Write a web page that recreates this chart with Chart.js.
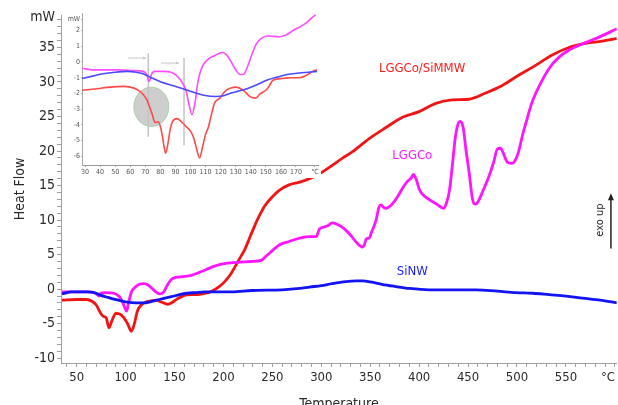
<!DOCTYPE html>
<html>
<head>
<meta charset="utf-8">
<script src="https://cdn.jsdelivr.net/npm/chart.js@4"></script>
<style>
html,body{margin:0;padding:0;background:#fff;}
#wrap{position:relative;width:618px;height:405px;overflow:hidden;}
#main{position:absolute;left:0;top:0;}
#inset{position:absolute;left:63px;top:8px;background:#fff;}
</style>
</head>
<body>
<div id="wrap">
<canvas id="main" width="618" height="405"></canvas>
<canvas id="inset" width="258" height="170"></canvas>
</div>
<script>
// ---------- main chart data (Temperature °C, Heat Flow mW) ----------
const redT = [35,50,60,66,70,75,78,80,83,86,90,94,98,102,106,109,112,116,120,126,131,137,143,148,153,160,167,174,182,188,196,202,208,216,222,227,232,237,242,247,257,267,278,288,298,311,322,332,349,366,383,400,417,434,451,468,485,502,519,536,553,570,587,602];
const redV = [-1.6,-1.5,-1.5,-1.8,-2.3,-3.6,-4.0,-4.1,-5.6,-4.6,-3.5,-3.6,-4.1,-5.0,-6.1,-5.0,-3.2,-2.3,-1.9,-1.7,-1.6,-1.9,-2.2,-1.9,-1.4,-0.9,-0.8,-0.8,-0.6,-0.3,0.4,1.2,2.3,4.3,5.8,7.5,9.2,10.7,12.0,12.9,14.3,15.1,15.5,16.0,16.7,17.9,19.0,19.9,21.8,23.4,24.9,25.7,26.9,27.4,27.5,28.4,29.5,31.0,32.4,33.9,35.0,35.6,35.9,36.3];

const magT = [35,50,60,68,71,73,75,79,88,93,96,99,101,103,106,110,114,119,123,127,131,135,139,142,146,151,158,167,175,182,190,197,207,217,228,239,243,247,257,267,278,290,295,298,303,307,311,316,321,326,330,337,342,344,346,349,351,356,359,361,364,366,373,378,383,388,392,394,397,400,403,410,418,425,428,431,434,437,440,442,445,448,451,454,456,458,461,466,471,476,480,483,486,490,494,497,500,502,506,509,515,522,533,543,553,570,584,602];
const magV = [-0.4,-0.4,-0.4,-0.5,-0.8,-1.0,-0.6,-0.5,-0.6,-1.0,-1.6,-2.6,-3.2,-2.0,-0.4,0.3,0.7,0.8,0.6,0.1,-0.4,-0.7,-0.4,0.4,1.3,1.7,1.8,2.0,2.4,2.8,3.3,3.6,3.8,3.9,4.0,4.2,4.7,5.2,6.4,6.9,7.4,7.6,7.6,8.7,9.0,9.2,9.6,9.4,9.0,8.4,7.8,6.6,6.1,6.4,7.3,7.4,8.1,10.0,11.9,12.2,11.8,11.7,12.4,13.4,14.6,15.6,16.1,16.6,15.9,14.5,13.8,13.0,12.3,11.7,12.5,14.3,18.0,22.0,24.0,24.3,23.4,20.0,17.0,13.5,12.4,12.3,12.9,14.5,16.2,18.3,20.3,20.4,19.7,18.4,18.2,18.4,19.2,20.1,22.5,24.0,26.9,29.2,32.0,33.6,34.6,35.7,36.5,37.7];

const bluT = [35,45,61,70,75,82,89,95,102,110,119,126,132,140,147,155,163,172,181,198,209,229,260,278,288,300,311,325,336,342,352,362,375,390,410,427,440,458,480,499,516,533,550,567,585,602];
const bluV = [-0.7,-0.4,-0.4,-0.6,-0.9,-1.2,-1.5,-1.7,-1.9,-2.0,-2.0,-1.8,-1.6,-1.3,-1.1,-0.8,-0.6,-0.5,-0.4,-0.4,-0.4,-0.2,-0.1,0.1,0.3,0.5,0.8,1.1,1.2,1.2,1.0,0.7,0.4,0.1,-0.1,-0.1,-0.1,-0.1,-0.3,-0.5,-0.6,-0.8,-1.0,-1.3,-1.6,-2.0];

const seriesNames = ['LGGCo/SiMMW','LGGCo','SiNW'];

// main axis ticks
const xMinorTicks = [40,50,60,70,80,90,100,110,120,130,140,150,160,170,180,190,200,210,220,230,240,250,260,270,280,290,300,310,320,330,340,350,360,370,380,390,400,410,420,430,440,450,460,470,480,490,500,510,520,530,540,550,560,570,580,590,600];
const xMajorTicks = [50,100,150,200,250,300,350,400,450,500,550];
const xUnitTick = 593, xUnitLabel = '°C';
const yMinorTicks = [-10,-9,-8,-7,-6,-5,-4,-3,-2,-1,0,1,2,3,4,5,6,7,8,9,10,11,12,13,14,15,16,17,18,19,20,21,22,23,24,25,26,27,28,29,30,31,32,33,34,35,36,37,38,39];
const yMajorTicks = [-10,-5,0,5,10,15,20,25,30,35];
const yUnitTick = 39.3, yUnitLabel = 'mW';

// ---------- inset data ----------
const inRedT = [28,38,46.5,55,60,64.5,68,71,73,74.5,76.5,78.5,80,81.5,83.5,85,86.5,88,91,94,97,100,102,104,106,108,110,112,114,116,119.5,123,127,130,135,139.5,143,146,151,155,161,167,172.5,177,181,184];
const inRedV = [-1.8,-1.7,-1.6,-1.55,-1.6,-1.75,-2.0,-2.4,-2.9,-3.3,-3.85,-3.8,-4.1,-4.8,-5.8,-5.2,-4.3,-3.8,-3.6,-3.8,-4.1,-4.4,-4.8,-5.5,-6.1,-5.4,-4.6,-4.1,-3.3,-2.6,-2.3,-1.85,-1.65,-1.6,-1.8,-2.2,-2.3,-2.05,-1.7,-1.15,-1.05,-1.0,-1.0,-0.85,-0.6,-0.5];
const inMagT = [28,35,45,53,62,68.5,71,72.5,74,76,82,87,90,93,95,97,99,101,103,105,107,109,112,116,121,124,127,130,133,135,137,139,141,144,147,151,159,164,168,173,177,181,183];
const inMagV = [-0.4,-0.5,-0.5,-0.5,-0.55,-0.6,-0.8,-1.25,-0.8,-0.6,-0.6,-0.65,-0.8,-1.1,-1.4,-1.8,-2.7,-3.35,-2.6,-1.2,-0.5,-0.1,0.2,0.4,0.6,0.45,0.0,-0.5,-0.8,-0.8,-0.5,0.0,0.55,1.2,1.5,1.65,1.6,1.75,2.0,2.25,2.5,2.85,3.0];
const inBluT = [28,35,42,50,58,64,68.5,74,80,88,95,101,108,117,122,126,132,137.5,144,151,158,164,172,178,184];
const inBluV = [-1.05,-0.9,-0.75,-0.65,-0.6,-0.65,-0.75,-1.0,-1.25,-1.5,-1.7,-1.9,-2.1,-2.2,-2.15,-2.0,-1.85,-1.7,-1.45,-1.15,-0.95,-0.8,-0.7,-0.65,-0.6];

const inXTicks = [30,40,50,60,70,80,90,100,110,120,130,140,150,160,170];
const inXUnitTick = 182.6;
const inYTicks = [-6,-5,-4,-3,-2,-1,0,1,2];
const inYUnitTick = 2.72;

// ---------- helpers ----------
const pts = (T, V) => T.map((t, i) => ({x: t, y: V[i]}));
const FONT = '"DejaVu Sans Condensed", "DejaVu Sans", sans-serif';
const AXIS = '#a0a0a0';
const TXT = '#2a2a2a';

const mainNotes = {
  id: 'mainNotes',
  afterDatasetsDraw(chart) {
    const {ctx, scales: {x, y}} = chart;
    ctx.save();
    ctx.font = '13px ' + FONT;
    ctx.textAlign = 'center';
    ctx.textBaseline = 'middle';
    const notes = [
      {t: seriesNames[0], X: 403, Y: 32.0, c: '#ff1a1a'},
      {t: seriesNames[1], X: 393, Y: 19.4, c: '#ff1aff'},
      {t: seriesNames[2], X: 393, Y: 2.6, c: '#2020ff'}
    ];
    notes.forEach(n => {
      ctx.fillStyle = n.c;
      ctx.fillText(n.t, x.getPixelForValue(n.X), y.getPixelForValue(n.Y));
    });
    // exo up
    ctx.save();
    ctx.translate(x.getPixelForValue(585), y.getPixelForValue(10));
    ctx.rotate(-Math.PI / 2);
    ctx.fillStyle = '#222';
    ctx.font = '11px ' + FONT;
    ctx.fillText('exo up', 0, 0);
    ctx.restore();
    const ax = x.getPixelForValue(596);
    const ay1 = y.getPixelForValue(5.9), ay2 = y.getPixelForValue(13.9);
    ctx.strokeStyle = '#222';
    ctx.fillStyle = '#222';
    ctx.lineWidth = 1.5;
    ctx.beginPath(); ctx.moveTo(ax, ay1); ctx.lineTo(ax, ay2 + 5); ctx.stroke();
    ctx.beginPath(); ctx.moveTo(ax, ay2); ctx.lineTo(ax - 3, ay2 + 7); ctx.lineTo(ax + 3, ay2 + 7); ctx.closePath(); ctx.fill();
    ctx.restore();
  }
};

const whiteBg = {
  id: 'whiteBg',
  beforeDraw(chart) {
    const ctx = chart.ctx;
    ctx.save(); ctx.fillStyle = '#fff'; ctx.fillRect(0, 0, chart.width, chart.height); ctx.restore();
  }
};

new Chart(document.getElementById('main'), {
  type: 'line',
  data: {
    datasets: [
      {label: seriesNames[2], data: pts(bluT, bluV), borderColor: '#1414f0', borderWidth: 2.8},
      {label: seriesNames[1], data: pts(magT, magV), borderColor: '#ff14ff', borderWidth: 2.8},
      {label: seriesNames[0], data: pts(redT, redV), borderColor: '#f21414', borderWidth: 2.8}
    ].map(d => Object.assign(d, {pointRadius: 0, fill: false, cubicInterpolationMode: 'monotone'}))
  },
  options: {
    responsive: false, animation: false,
    layout: {padding: {top: 15, right: 0, left: 0, bottom: 0}},
    plugins: {legend: {display: false}, tooltip: {enabled: false}},
    scales: {
      x: {
        type: 'linear', min: 34, max: 602,
        afterBuildTicks: s => { s.ticks = xMinorTicks.concat([xUnitTick]).map(v => ({value: v})); },
        afterFit: s => { s.height = 42; },
        ticks: {
          autoSkip: false, maxRotation: 0, minRotation: 0, padding: 3, color: TXT,
          font: {family: FONT, size: 13},
          callback: v => v === xUnitTick ? xUnitLabel : (xMajorTicks.includes(v) ? String(v) : '')
        },
        grid: {drawOnChartArea: false, drawTicks: true, tickLength: 4,
               color: c => (c.tick && c.tick.value === xUnitTick) ? 'rgba(0,0,0,0)' : AXIS},
        border: {color: AXIS, width: 1},
        title: {display: true, text: 'Temperature', color: TXT, font: {family: FONT, size: 14}, padding: {top: 0, bottom: -8}}
      },
      y: {
        type: 'linear', min: -10.7, max: 39.7,
        afterBuildTicks: s => { s.ticks = yMinorTicks.concat([yUnitTick]).map(v => ({value: v})); },
        afterFit: s => { s.width = 61; },
        ticks: {
          autoSkip: false, padding: 2, color: TXT,
          font: {family: FONT, size: 14},
          callback: v => v === yUnitTick ? yUnitLabel : (yMajorTicks.includes(v) ? String(v) : '')
        },
        grid: {drawOnChartArea: false, drawTicks: true, tickLength: 4,
               color: c => (c.tick && c.tick.value === yUnitTick) ? 'rgba(0,0,0,0)' : AXIS},
        border: {color: AXIS, width: 1},
        title: {display: true, text: 'Heat Flow', color: TXT, font: {family: FONT, size: 14}, padding: {top: 12, bottom: 0}}
      }
    }
  },
  plugins: [whiteBg, mainNotes]
});

// ---------- inset ----------
const insetNotes = {
  id: 'insetNotes',
  beforeDatasetsDraw(chart) {
    const {ctx, scales: {x, y}} = chart;
    ctx.save();
    const cx = x.getPixelForValue(74), cy = y.getPixelForValue(-2.85);
    const rx = x.getPixelForValue(74 + 11.6) - cx, ry = cy - y.getPixelForValue(-2.85 + 1.25);
    ctx.beginPath(); ctx.ellipse(cx, cy, rx, ry, 0, 0, Math.PI * 2);
    ctx.fillStyle = 'rgba(190,190,190,0.75)'; ctx.fill();
    ctx.strokeStyle = 'rgba(160,205,160,0.9)'; ctx.lineWidth = 1; ctx.stroke();
    ctx.strokeStyle = '#c4c4c4'; ctx.lineWidth = 1.5;
    [[72, 0.55, -4.75], [95.7, 0.25, -5.3]].forEach(([t, a, b]) => {
      const px = x.getPixelForValue(t);
      ctx.beginPath(); ctx.moveTo(px, y.getPixelForValue(a)); ctx.lineTo(px, y.getPixelForValue(b)); ctx.stroke();
    });
    ctx.lineWidth = 1; ctx.strokeStyle = '#c8c8c8'; ctx.fillStyle = '#c8c8c8';
    [[58.5, 70.5, 0.25], [80.4, 92.4, -0.07]].forEach(([t1, t2, v]) => {
      const x1 = x.getPixelForValue(t1), x2 = x.getPixelForValue(t2), py = y.getPixelForValue(v);
      ctx.beginPath(); ctx.moveTo(x1, py); ctx.lineTo(x2, py); ctx.stroke();
      ctx.beginPath(); ctx.moveTo(x2, py); ctx.lineTo(x2 - 3, py - 1.5); ctx.lineTo(x2 - 3, py + 1.5); ctx.closePath(); ctx.fill();
    });
    ctx.restore();
  }
};

new Chart(document.getElementById('inset'), {
  type: 'line',
  data: {
    datasets: [
      {label: seriesNames[2], data: pts(inBluT, inBluV), borderColor: '#4a4aff'},
      {label: seriesNames[1], data: pts(inMagT, inMagV), borderColor: '#ff4cff'},
      {label: seriesNames[0], data: pts(inRedT, inRedV), borderColor: '#ff4a4a'}
    ].map(d => Object.assign(d, {pointRadius: 0, fill: false, borderWidth: 1.6, cubicInterpolationMode: 'monotone'}))
  },
  options: {
    responsive: false, animation: false,
    layout: {padding: {top: 5, right: 3, left: 0, bottom: 0}},
    plugins: {legend: {display: false}, tooltip: {enabled: false}},
    scales: {
      x: {
        type: 'linear', min: 28, max: 184.6,
        afterBuildTicks: s => { s.ticks = inXTicks.concat([inXUnitTick]).map(v => ({value: v})); },
        afterFit: s => { s.height = 13; },
        ticks: {autoSkip: false, maxRotation: 0, minRotation: 0, padding: 1, color: '#555',
                font: {family: FONT, size: 7},
                callback: v => v === inXUnitTick ? '°C' : String(v)},
        grid: {drawOnChartArea: false, drawTicks: true, tickLength: 2, color: '#aaa'},
        border: {color: '#999', width: 1, dash: [1, 1.5]}
      },
      y: {
        type: 'linear', min: -6.55, max: 3.1,
        afterBuildTicks: s => { s.ticks = inYTicks.concat([inYUnitTick]).map(v => ({value: v})); },
        afterFit: s => { s.width = 19; },
        ticks: {autoSkip: false, padding: 1, color: '#555',
                font: {family: FONT, size: 7},
                callback: v => v === inYUnitTick ? 'mW' : String(v)},
        grid: {drawOnChartArea: false, drawTicks: true, tickLength: 1, color: '#bbb'},
        border: {color: '#aaa', width: 1}
      }
    }
  },
  plugins: [whiteBg, insetNotes]
});
</script>
</body>
</html>
